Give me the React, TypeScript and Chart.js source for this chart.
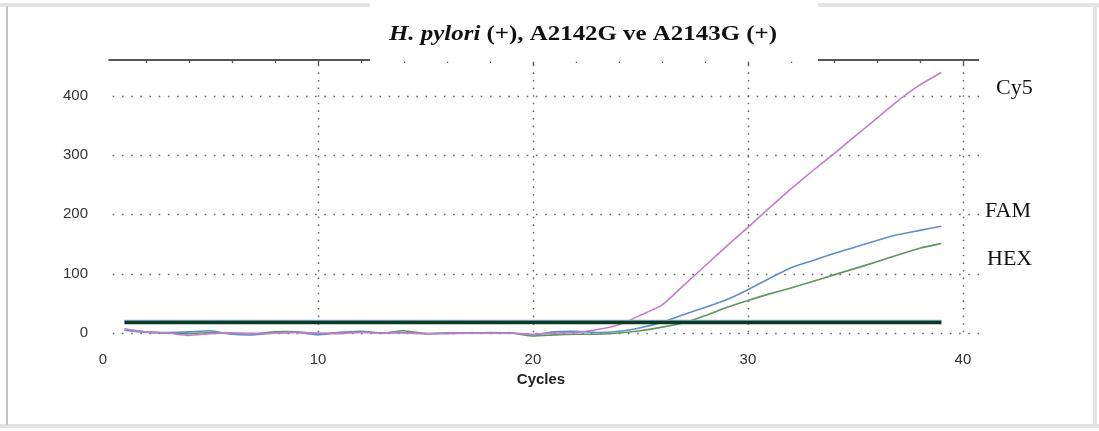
import React, { useEffect, useRef } from "react";
import { Chart, registerables } from "chart.js";

Chart.register(...registerables);

const cycles = [
  1, 2, 3, 4, 5, 6, 7, 8, 9, 10, 11, 12, 13, 14, 15, 16, 17, 18, 19, 20,
  21, 22, 23, 24, 25, 26, 27, 28, 29, 30, 31, 32, 33, 34, 35, 36, 37, 38, 39,
];
const cy5Values = [
  7, 2, 0, -4, -1, 0, -1, 0, 1, 0, -1, 1, 0, 0, -1, -1, 0, 0, 0, -2,
  0, 1, 6, 14, 30, 47, 80, 113, 146, 178, 211, 243, 273, 302, 332, 362, 392, 418, 439,
];
const famValues = [
  5, 1, 1, 2, 4, -2, -3, 0, 1, -3, 1, 2, 0, 1, -1, 0, 0, 1, 0, -3,
  2, 3, 1, 3, 9, 18, 31, 43, 56, 73, 92, 110, 122, 134, 145, 156, 166, 173, 180,
];
const hexValues = [
  6, 2, 0, -1, 1, 0, -1, 2, 2, -1, 1, 3, 0, 4, -1, 0, 0, 0, 0, -5,
  -3, -2, -2, 0, 4, 10, 17, 29, 43, 55, 66, 76, 87, 98, 109, 120, 132, 143, 151,
];
const thresholdValue = 18;
const xTickValues = [0, 10, 20, 30, 40];
const yTickValues = [0, 100, 200, 300, 400];
const verticalGridValues = [10, 20, 30, 40];
const channelNames = ["Cy5", "FAM", "HEX"];
const channelLabelValues = [412, 205, 124];
const titleItalic = "H. pylori";
const titleRest = " (+), A2142G ve A2143G (+)";
const xAxisTitle = "Cycles";

const toPoints = (vals: number[]) => cycles.map((c, i) => ({ x: c, y: vals[i] }));

const decorPlugin = {
  id: "decor",
  beforeDraw(chart: any) {
    const { ctx, width, height } = chart;
    ctx.save();
    ctx.fillStyle = "#ffffff";
    ctx.fillRect(0, 0, width, height);
    ctx.fillStyle = "#e3e3e3";
    ctx.fillRect(0, 3, width, 4);
    ctx.fillRect(width - 6, 3, 4, height - 6);
    ctx.fillRect(0, height - 7, width, 4);
    ctx.fillStyle = "#c4c4c4";
    ctx.fillRect(6, 6, 2, height - 12);
    ctx.restore();
  },
  beforeDatasetsDraw(chart: any) {
    const { ctx, scales } = chart;
    const x = scales.x;
    const y = scales.y;
    ctx.save();
    ctx.strokeStyle = "#666666";
    ctx.lineWidth = 1.5;
    ctx.setLineDash([1.6, 7.6]);
    const hx0 = x.getPixelForValue(0.45);
    const hx1 = x.getPixelForValue(40.8);
    for (const v of yTickValues) {
      const py = Math.round(y.getPixelForValue(v)) + 0.5;
      ctx.beginPath();
      ctx.moveTo(hx0, py);
      ctx.lineTo(hx1, py);
      ctx.stroke();
    }
    ctx.setLineDash([1.6, 6]);
    for (const v of verticalGridValues) {
      const px = Math.round(x.getPixelForValue(v)) + 0.5;
      ctx.beginPath();
      ctx.moveTo(px, y.getPixelForValue(452));
      ctx.lineTo(px, y.getPixelForValue(-7));
      ctx.stroke();
    }
    ctx.restore();
  },
  afterDraw(chart: any) {
    const { ctx, scales } = chart;
    const x = scales.x;
    const y = scales.y;
    const topY = chart.chartArea.top;
    ctx.save();
    ctx.strokeStyle = "#555555";
    ctx.lineWidth = 2;
    ctx.beginPath();
    ctx.moveTo(x.getPixelForValue(0.25), topY);
    ctx.lineTo(x.getPixelForValue(40.75), topY);
    ctx.stroke();
    ctx.lineWidth = 1.3;
    for (let c = 2; c <= 40; c += 2) {
      const px = Math.round(x.getPixelForValue(c)) + 0.5;
      const len = c % 10 === 0 ? 5 : 3;
      ctx.beginPath();
      ctx.moveTo(px, topY);
      ctx.lineTo(px, topY + len);
      ctx.stroke();
    }
    ctx.fillStyle = "#ffffff";
    ctx.fillRect(370, 0, 448, topY + 1.5);
    ctx.fillStyle = "#c8c8c8";
    for (let c = 2; c <= 40; c += 2) {
      const px = Math.round(x.getPixelForValue(c));
      if (px > 370 && px < 818) ctx.fillRect(px, topY + 1, 1, 1);
    }
    // title, stretched to the reference width
    ctx.fillStyle = "#111111";
    ctx.textBaseline = "alphabetic";
    const italicFont = "italic bold 22px 'Liberation Serif'";
    const boldFont = "bold 22px 'Liberation Serif'";
    ctx.font = italicFont;
    const w1 = ctx.measureText(titleItalic).width;
    ctx.font = boldFont;
    const w2 = ctx.measureText(titleRest).width;
    const sx = 388 / (w1 + w2);
    ctx.save();
    ctx.translate(583 - 194, 40);
    ctx.scale(sx, 1);
    ctx.font = italicFont;
    ctx.fillText(titleItalic, 0, 0);
    ctx.font = boldFont;
    ctx.fillText(titleRest, w1, 0);
    ctx.restore();
    ctx.font = "22px 'Liberation Serif'";
    ctx.textBaseline = "middle";
    ctx.fillStyle = "#111111";
    const lx = [996, 985, 987];
    channelNames.forEach((n, i) => {
      ctx.fillText(n, lx[i], y.getPixelForValue(channelLabelValues[i]));
    });
    ctx.restore();
  },
};

export default function App() {
  const ref = useRef<HTMLCanvasElement | null>(null);
  useEffect(() => {
    document.body.style.margin = "0";
    const canvas = ref.current;
    if (!canvas) return;
    const chart = new Chart(canvas, {
      type: "line",
      data: {
        datasets: [
          {
            data: [
              { x: cycles[0], y: thresholdValue },
              { x: cycles[cycles.length - 1], y: thresholdValue },
            ],
            borderColor: "#0b3a20",
            borderWidth: 3.5,
            pointRadius: 0,
          },
          {
            data: [
              { x: cycles[0], y: thresholdValue + 1.2 },
              { x: cycles[cycles.length - 1], y: thresholdValue + 1.2 },
            ],
            borderColor: "#86acd6",
            borderWidth: 4,
            pointRadius: 0,
          },
          {
            data: toPoints(cy5Values),
            borderColor: "#c67ccd",
            borderWidth: 1.6,
            pointRadius: 0,
            tension: 0.15,
          },
          {
            data: toPoints(famValues),
            borderColor: "#5f8fc6",
            borderWidth: 1.6,
            pointRadius: 0,
            tension: 0.15,
          },
          {
            data: toPoints(hexValues),
            borderColor: "#5e9461",
            borderWidth: 1.6,
            pointRadius: 0,
            tension: 0.15,
          },
        ],
      },
      options: {
        responsive: false,
        animation: false,
        devicePixelRatio: 1,
        layout: { padding: { left: 0, right: 120, top: 60, bottom: 42 } },
        plugins: {
          legend: { display: false },
          tooltip: { enabled: false },
          title: { display: false },
        },
        scales: {
          x: {
            type: "linear",
            min: 0,
            max: 40.75,
            afterBuildTicks: (s: any) => {
              s.ticks = xTickValues.map((v) => ({ value: v }));
            },
            afterFit: (s: any) => {
              s.height = 50;
            },
            grid: { display: false, drawTicks: false },
            border: { display: false },
            ticks: {
              padding: 12,
              color: "#333333",
              autoSkip: false,
              maxRotation: 0,
              font: { family: "'Liberation Sans'", size: 15 },
            },
            title: {
              display: true,
              text: xAxisTitle,
              color: "#222222",
              font: { family: "'Liberation Sans'", size: 15, weight: "bold" },
              padding: { top: 0, bottom: 0 },
            },
          },
          y: {
            type: "linear",
            min: -10,
            max: 460,
            afterBuildTicks: (s: any) => {
              s.ticks = yTickValues.map((v) => ({ value: v }));
            },
            afterFit: (s: any) => {
              s.width = 103;
            },
            grid: { display: false, drawTicks: false },
            border: { display: false },
            ticks: {
              padding: 15,
              color: "#333333",
              font: { family: "'Liberation Sans'", size: 15 },
            },
          },
        },
      },
      plugins: [decorPlugin],
    } as any);
    return () => chart.destroy();
  }, []);
  return (
    <canvas
      ref={ref}
      width={1099}
      height={431}
      style={{ display: "block", width: 1099, height: 431 }}
    />
  );
}
